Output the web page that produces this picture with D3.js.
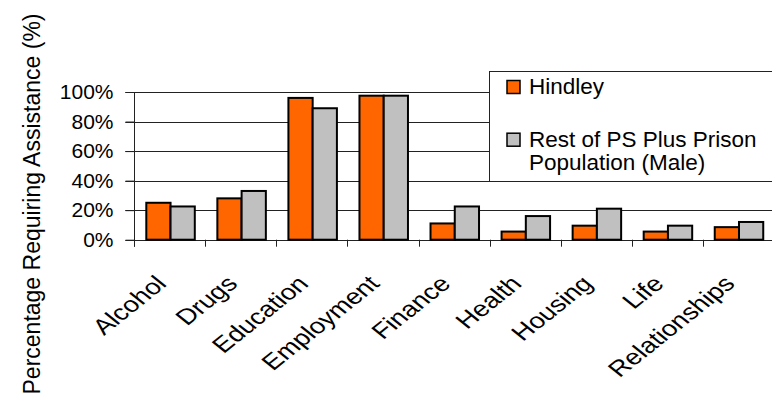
<!DOCTYPE html>
<html>
<head>
<meta charset="utf-8">
<script src="https://cdn.jsdelivr.net/npm/d3@7"></script>
<style>
  html, body { margin: 0; padding: 0; background: #fff; }
  svg { display: block; font-family: Arial, "Liberation Sans", sans-serif; }
</style>
</head>
<body>
<svg id="chart" width="772" height="404"></svg>
<script>
// Needs categories and the two compared populations (share requiring assistance)
const categories = ["Alcohol", "Drugs", "Education", "Employment", "Finance", "Health", "Housing", "Life", "Relationships"];
const seriesNames = ["Hindley", "Rest of PS Plus Prison Population (Male)"];
const hindley = [0.25, 0.28, 0.96, 0.975, 0.11, 0.055, 0.095, 0.055, 0.085];
const restOfPS = [0.225, 0.33, 0.89, 0.975, 0.225, 0.16, 0.21, 0.095, 0.12];
const yTicks = [0, 0.2, 0.4, 0.6, 0.8, 1.0];
const colors = ["#FF6600", "#C0C0C0"];

const svg = d3.select("#chart");

const plot = { left: 134.3, right: 773.8, top: 92, bottom: 239.7 };

const x = d3.scaleBand().domain(categories).range([plot.left, plot.right]).padding(0);
const xs = d3.scaleBand().domain(seriesNames).range([12, 60.5]).padding(0);
const y = d3.scaleLinear().domain([0, 1]).range([plot.bottom, plot.top]);

const fmt = d3.format(".0%");

// Gridlines
svg.append("g")
  .selectAll("line")
  .data(yTicks)
  .join("line")
  .attr("x1", plot.left - 9)
  .attr("x2", 772)
  .attr("y1", d => Math.round(y(d)) + 0.5)
  .attr("y2", d => Math.round(y(d)) + 0.5)
  .attr("stroke", "#222")
  .attr("stroke-width", 1);

// Y axis
const yAxis = d3.axisLeft(y).tickValues(yTicks).tickFormat(fmt).tickSize(9).tickPadding(12);
const gy = svg.append("g").attr("transform", `translate(${Math.round(plot.left) + 0.5},0)`).call(yAxis);
gy.select(".domain").remove();
gy.append("line").attr("x1", 0).attr("x2", 0).attr("y1", plot.top).attr("y2", plot.bottom + 7).attr("stroke", "#222");
gy.selectAll(".tick line").attr("stroke", "#222");
gy.selectAll(".tick text").attr("font-size", 21).attr("fill", "#000").attr("font-family", "Arial, 'Liberation Sans', sans-serif");

// X axis tick marks at category boundaries
const boundaries = categories.map(c => x(c)).concat([plot.right]);
svg.append("g")
  .selectAll("line")
  .data(boundaries)
  .join("line")
  .attr("x1", d => Math.round(d) + 0.5)
  .attr("x2", d => Math.round(d) + 0.5)
  .attr("y1", plot.bottom)
  .attr("y2", plot.bottom + 7)
  .attr("stroke", "#222");

// Bars
const groups = svg.append("g")
  .selectAll("g")
  .data(categories)
  .join("g")
  .attr("transform", d => `translate(${x(d)},0)`);

groups.selectAll("rect")
  .data((c, i) => [
    { s: seriesNames[0], v: hindley[i], k: 0 },
    { s: seriesNames[1], v: restOfPS[i], k: 1 }
  ])
  .join("rect")
  .attr("x", d => xs(d.s))
  .attr("width", xs.bandwidth())
  .attr("y", d => y(d.v))
  .attr("height", d => y(0) - y(d.v))
  .attr("fill", d => colors[d.k])
  .attr("stroke", "#000")
  .attr("stroke-width", 2);

// Category labels (slanted, slightly widened)
svg.append("g")
  .selectAll("text")
  .data(categories)
  .join("text")
  .attr("transform", d => `translate(${x(d) + x.bandwidth() / 2 - 2},285) scale(1.25,1) rotate(-45)`)
  .attr("text-anchor", "end")
  .attr("font-size", 22)
  .attr("fill", "#000")
  .text(d => d);

// Y axis title
svg.append("text")
  .attr("transform", "translate(40,204) rotate(-90)")
  .attr("text-anchor", "middle")
  .attr("font-size", 23)
  .attr("fill", "#000")
  .text("Percentage Requiring Assistance (%)");

// Legend
const legend = svg.append("g");
legend.append("rect")
  .attr("x", 489.5).attr("y", 71.5)
  .attr("width", 300).attr("height", 110)
  .attr("fill", "#fff").attr("stroke", "#222").attr("stroke-width", 1);

const legendRows = [
  { k: 0, lines: ["Hindley"], y: 94 },
  { k: 1, lines: ["Rest of PS Plus Prison", "Population (Male)"], y: 146.7 }
];
legendRows.forEach(r => {
  legend.append("rect")
    .attr("x", 507).attr("y", r.y - 13.5)
    .attr("width", 13).attr("height", 13)
    .attr("fill", colors[r.k]).attr("stroke", "#000").attr("stroke-width", 1.5);
  const t = legend.append("text")
    .attr("x", 529).attr("y", r.y)
    .attr("font-size", 22.5).attr("fill", "#000");
  r.lines.forEach((ln, i) => {
    t.append("tspan").attr("x", 529).attr("dy", i === 0 ? 0 : 23).text(ln);
  });
});
</script>
</body>
</html>
